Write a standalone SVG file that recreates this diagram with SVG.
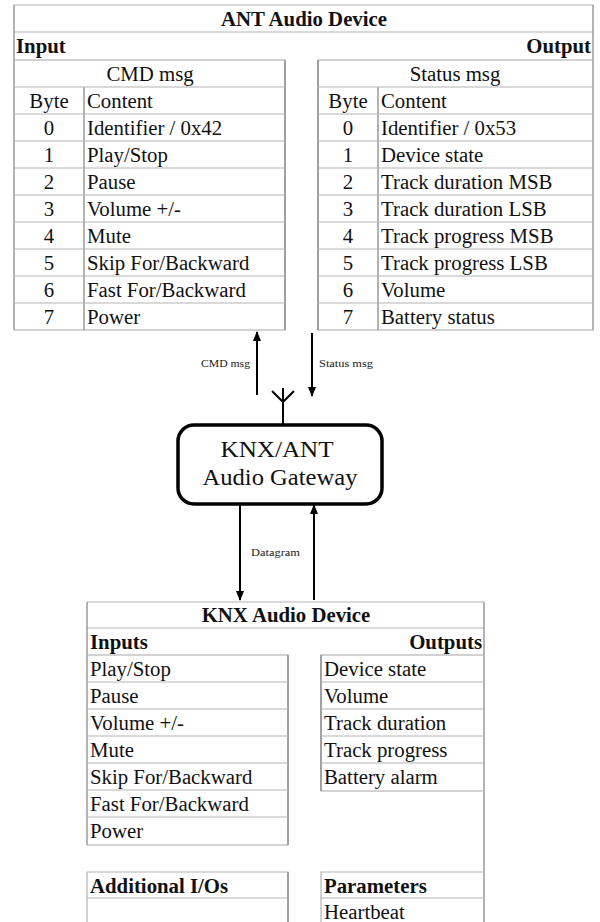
<svg xmlns="http://www.w3.org/2000/svg" width="600" height="922" viewBox="0 0 600 922">
<style>
.t{font-family:"Liberation Serif",serif;font-size:20.8px;fill:#111}
.b{font-weight:bold}
.c{text-anchor:middle}
.r{text-anchor:end}
.g{stroke:#b4b4b4;stroke-width:1.2;fill:none}
.d{stroke:#808080;stroke-width:1.2;fill:none}
.k{stroke:#000;stroke-width:2;fill:none}
.s{font-family:"Liberation Serif",serif;font-size:10px;fill:#222}
.m{font-family:"Liberation Serif",serif;font-size:23px;fill:#111}
</style>
<defs>
<marker id="ah" markerWidth="10" markerHeight="8" refX="9" refY="4" orient="auto" markerUnits="userSpaceOnUse">
<path d="M0,0 L10,4 L0,8 Z" fill="#000"/>
</marker>
</defs>
<rect width="600" height="922" fill="#fff"/>

<g id="ant-device">
<line class="g" x1="14" y1="5" x2="593" y2="5"/>
<line class="g" x1="14" y1="32" x2="593" y2="32"/>
<line class="d" x1="14" y1="5" x2="14" y2="330"/>
<line class="d" x1="593" y1="5" x2="593" y2="330"/>
<text class="t b c" x="304" y="26">ANT Audio Device</text>
<text class="t b" x="16" y="53">Input</text>
<text class="t b r" x="591" y="53">Output</text>
</g>

<g id="cmd-table">
<rect class="g" x="14" y="60" width="271" height="270"/>
<line class="d" x1="285" y1="60" x2="285" y2="330"/>
<line class="d" x1="84" y1="87" x2="84" y2="330"/>
<g class="g">
<line x1="14" y1="87" x2="285" y2="87"/>
<line x1="14" y1="114" x2="285" y2="114"/>
<line x1="14" y1="141" x2="285" y2="141"/>
<line x1="14" y1="168" x2="285" y2="168"/>
<line x1="14" y1="195" x2="285" y2="195"/>
<line x1="14" y1="222" x2="285" y2="222"/>
<line x1="14" y1="249" x2="285" y2="249"/>
<line x1="14" y1="276" x2="285" y2="276"/>
<line x1="14" y1="303" x2="285" y2="303"/>
</g>
<text class="t c" x="150" y="81">CMD msg</text>
<text class="t c" x="49" y="108">Byte</text><text class="t" x="87" y="108">Content</text>
<text class="t c" x="49" y="135">0</text><text class="t" x="87" y="135">Identifier / 0x42</text>
<text class="t c" x="49" y="162">1</text><text class="t" x="87" y="162">Play/Stop</text>
<text class="t c" x="49" y="189">2</text><text class="t" x="87" y="189">Pause</text>
<text class="t c" x="49" y="216">3</text><text class="t" x="87" y="216">Volume +/-</text>
<text class="t c" x="49" y="243">4</text><text class="t" x="87" y="243">Mute</text>
<text class="t c" x="49" y="270">5</text><text class="t" x="87" y="270">Skip For/Backward</text>
<text class="t c" x="49" y="297">6</text><text class="t" x="87" y="297">Fast For/Backward</text>
<text class="t c" x="49" y="324">7</text><text class="t" x="87" y="324">Power</text>
</g>

<g id="status-table">
<rect class="g" x="318" y="60" width="275" height="270"/>
<line class="d" x1="318" y1="60" x2="318" y2="330"/>
<line class="d" x1="378" y1="87" x2="378" y2="330"/>
<g class="g">
<line x1="318" y1="87" x2="593" y2="87"/>
<line x1="318" y1="114" x2="593" y2="114"/>
<line x1="318" y1="141" x2="593" y2="141"/>
<line x1="318" y1="168" x2="593" y2="168"/>
<line x1="318" y1="195" x2="593" y2="195"/>
<line x1="318" y1="222" x2="593" y2="222"/>
<line x1="318" y1="249" x2="593" y2="249"/>
<line x1="318" y1="276" x2="593" y2="276"/>
<line x1="318" y1="303" x2="593" y2="303"/>
</g>
<text class="t c" x="455" y="81">Status msg</text>
<text class="t c" x="348" y="108">Byte</text><text class="t" x="381" y="108">Content</text>
<text class="t c" x="348" y="135">0</text><text class="t" x="381" y="135">Identifier / 0x53</text>
<text class="t c" x="348" y="162">1</text><text class="t" x="381" y="162">Device state</text>
<text class="t c" x="348" y="189">2</text><text class="t" x="381" y="189">Track duration MSB</text>
<text class="t c" x="348" y="216">3</text><text class="t" x="381" y="216">Track duration LSB</text>
<text class="t c" x="348" y="243">4</text><text class="t" x="381" y="243">Track progress MSB</text>
<text class="t c" x="348" y="270">5</text><text class="t" x="381" y="270">Track progress LSB</text>
<text class="t c" x="348" y="297">6</text><text class="t" x="381" y="297">Volume</text>
<text class="t c" x="348" y="324">7</text><text class="t" x="381" y="324">Battery status</text>
</g>

<g id="gateway">
<rect x="178" y="425" width="204" height="79" rx="16" ry="16" fill="#fff" stroke="#000" stroke-width="3.5"/>
<text class="m c" x="277" y="457" textLength="113" lengthAdjust="spacingAndGlyphs">KNX/ANT</text>
<text class="m c" x="280" y="485" textLength="155" lengthAdjust="spacingAndGlyphs">Audio Gateway</text>
<path class="k" d="M283,424 L283,388 M283,402 L272,391 M283,402 L294,391" stroke-width="1.8"/>
</g>

<g id="connectors">
<line class="k" x1="257" y1="395" x2="257" y2="332" marker-end="url(#ah)"/>
<line class="k" x1="312" y1="333" x2="312" y2="396" marker-end="url(#ah)"/>
<line class="k" x1="240" y1="505" x2="240" y2="600" marker-end="url(#ah)"/>
<line class="k" x1="314" y1="600" x2="314" y2="505" marker-end="url(#ah)"/>
<text class="s" x="201" y="367" textLength="49" lengthAdjust="spacingAndGlyphs">CMD msg</text>
<text class="s" x="319" y="367" textLength="54" lengthAdjust="spacingAndGlyphs">Status msg</text>
<text class="s" x="251" y="556" textLength="49" lengthAdjust="spacingAndGlyphs">Datagram</text>
</g>

<g id="knx-device">
<line class="g" x1="87" y1="602" x2="484" y2="602"/>
<line class="g" x1="87" y1="628" x2="484" y2="628"/>
<line class="d" x1="87" y1="602" x2="87" y2="845"/>
<line class="d" x1="484" y1="602" x2="484" y2="922"/>
<text class="t b c" x="286" y="622">KNX Audio Device</text>
<text class="t b" x="90" y="649">Inputs</text>
<text class="t b r" x="482" y="649">Outputs</text>
</g>

<g id="knx-inputs">
<rect class="g" x="87" y="655" width="201" height="190"/>
<line class="d" x1="288" y1="655" x2="288" y2="845"/>
<g class="g">
<line x1="87" y1="682" x2="288" y2="682"/>
<line x1="87" y1="709" x2="288" y2="709"/>
<line x1="87" y1="736" x2="288" y2="736"/>
<line x1="87" y1="763" x2="288" y2="763"/>
<line x1="87" y1="790" x2="288" y2="790"/>
<line x1="87" y1="817" x2="288" y2="817"/>
</g>
<text class="t" x="90" y="676">Play/Stop</text>
<text class="t" x="90" y="703">Pause</text>
<text class="t" x="90" y="730">Volume +/-</text>
<text class="t" x="90" y="757">Mute</text>
<text class="t" x="90" y="784">Skip For/Backward</text>
<text class="t" x="90" y="811">Fast For/Backward</text>
<text class="t" x="90" y="838">Power</text>
</g>

<g id="knx-outputs">
<rect class="g" x="321" y="655" width="163" height="136"/>
<line class="d" x1="321" y1="655" x2="321" y2="791"/>
<g class="g">
<line x1="321" y1="682" x2="484" y2="682"/>
<line x1="321" y1="709" x2="484" y2="709"/>
<line x1="321" y1="736" x2="484" y2="736"/>
<line x1="321" y1="763" x2="484" y2="763"/>
</g>
<text class="t" x="324" y="676">Device state</text>
<text class="t" x="324" y="703">Volume</text>
<text class="t" x="324" y="730">Track duration</text>
<text class="t" x="324" y="757">Track progress</text>
<text class="t" x="324" y="784">Battery alarm</text>
</g>

<g id="knx-additional">
<path class="g" d="M87,922 L87,872 L288,872 L288,922 M87,898 L288,898"/>
<line class="d" x1="288" y1="872" x2="288" y2="922"/>
<text class="t b" x="90" y="893">Additional I/Os</text>
</g>

<g id="knx-parameters">
<path class="g" d="M321,922 L321,872 L484,872 M321,898 L484,898"/>
<text class="t b" x="324" y="893">Parameters</text>
<text class="t" x="324" y="919">Heartbeat</text>
</g>
</svg>
